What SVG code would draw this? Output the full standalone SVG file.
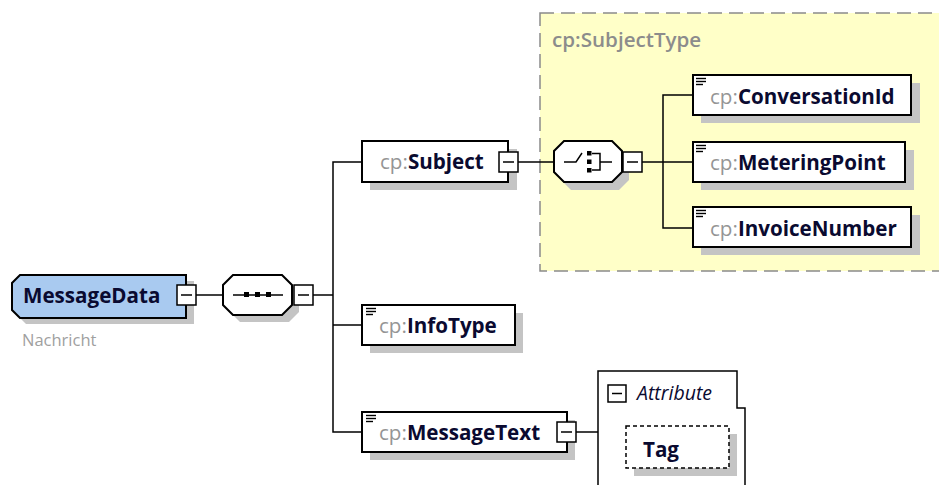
<svg xmlns="http://www.w3.org/2000/svg" width="939" height="485" viewBox="0 0 939 485">
<style>
.bx{fill:#fff;stroke:#000;stroke-width:2}
.sh{fill:#c4c4c4;stroke:none}
.ln{fill:none;stroke:#000;stroke-width:1.5}
.mb{fill:#fff;stroke:#000;stroke-width:1.5}
.t{font-family:"Open Sans","Noto Sans",sans-serif;font-size:20.6px}
.ns{fill:#959595;font-weight:400}
.nm{fill:#0a0a30;font-weight:700}
.ic{stroke:#000;stroke-width:1.4}
</style>
<defs>
<g id="minus"><rect class="mb" x="0" y="0" width="19" height="20"/><line class="ln" x1="4" y1="10" x2="15" y2="10"/></g>
<g id="doc"><line class="ic" x1="0" y1="0.5" x2="10" y2="0.5"/><line class="ic" x1="0" y1="3.5" x2="10" y2="3.5"/><line class="ic" x1="0" y1="6.5" x2="7" y2="6.5"/></g>
</defs>
<rect width="939" height="485" fill="#fff"/>

<g id="subjecttype">
<rect x="540" y="13" width="410" height="258" fill="#ffffc8" stroke="#8a8a8a" stroke-width="1.5" stroke-dasharray="14,7"/>
<text class="t" x="552" y="47" fill="#8c8c8c" font-weight="600" font-size="20">cp:SubjectType</text>
</g>

<g id="connectors">
<line class="ln" x1="196" y1="295" x2="223" y2="295"/>
<line class="ln" x1="313" y1="295" x2="333" y2="295"/>
<polyline class="ln" points="362,162 333,162 333,432 362,432"/>
<line class="ln" x1="333" y1="325" x2="362" y2="325"/>
<line class="ln" x1="518" y1="162" x2="554" y2="162"/>
<line class="ln" x1="642" y1="162" x2="693" y2="162"/>
<polyline class="ln" points="693,95 663,95 663,228 693,228"/>
<line class="ln" x1="575" y1="432" x2="598" y2="432"/>
</g>

<g id="messagedata">
<polygon class="sh" points="26,281 194,281 194,324 26,324 18,316 18,289"/>
<polygon points="20,275 186,275 186,318 20,318 12,310 12,283" fill="#a9caf0" stroke="#000" stroke-width="2"/>
<text class="t nm" x="23" y="303" font-size="21.5">MessageData</text>
<use href="#minus" x="177" y="285"/>
<text x="22" y="346" font-family="'Open Sans','Noto Sans',sans-serif" font-size="16.5" fill="#a0a0a0">Nachricht</text>
</g>

<g id="sequence">
<polygon class="sh" points="240,282 289,282 299,292 299,312 289,322 240,322 230,312 230,292"/>
<polygon class="bx" points="233,275 282,275 292,285 292,305 282,315 233,315 223,305 223,285"/>
<line class="ln" x1="233" y1="295" x2="283" y2="295"/>
<rect x="244" y="292" width="5" height="5"/>
<rect x="255" y="292" width="5" height="5"/>
<rect x="266" y="292" width="5" height="5"/>
<use href="#minus" x="294" y="285"/>
</g>

<g id="subject">
<rect class="sh" x="370" y="149" width="147" height="41"/>
<rect class="bx" x="362" y="141" width="146" height="41"/>
<text class="t" x="380" y="169"><tspan class="ns">cp:</tspan><tspan class="nm">Subject</tspan></text>
<use href="#minus" x="499" y="152"/>
</g>

<g id="choice">
<polygon class="sh" points="571,149 619,149 629,159 629,180 619,190 571,190 561,180 561,159"/>
<polygon class="bx" points="564,141 612,141 622,151 622,172 612,182 564,182 554,172 554,151"/>
<polyline class="ln" points="564,162 576,162 582,153"/>
<rect x="587" y="151" width="4.5" height="4.5"/>
<rect x="587" y="159.5" width="4.5" height="4.5"/>
<rect x="587" y="168" width="4.5" height="4.5"/>
<polyline class="ln" points="592,153.5 600,153.5 600,170 592,170"/>
<line class="ln" x1="600" y1="162" x2="612" y2="162"/>
<use href="#minus" x="623" y="152"/>
</g>

<g id="conversationid">
<rect class="sh" x="701" y="83" width="219" height="40"/>
<rect class="bx" x="693" y="75" width="218" height="40"/>
<use href="#doc" x="696" y="78"/>
<text class="t" x="710" y="104"><tspan class="ns">cp:</tspan><tspan class="nm">ConversationId</tspan></text>
</g>

<g id="meteringpoint">
<rect class="sh" x="701" y="150" width="213" height="40"/>
<rect class="bx" x="693" y="142" width="212" height="40"/>
<use href="#doc" x="696" y="145"/>
<text class="t" x="710" y="170"><tspan class="ns">cp:</tspan><tspan class="nm">MeteringPoint</tspan></text>
</g>

<g id="invoicenumber">
<rect class="sh" x="701" y="215" width="219" height="40"/>
<rect class="bx" x="693" y="207" width="218" height="40"/>
<use href="#doc" x="696" y="210"/>
<text class="t" x="710" y="236"><tspan class="ns">cp:</tspan><tspan class="nm">InvoiceNumber</tspan></text>
</g>

<g id="infotype">
<rect class="sh" x="370" y="313" width="153" height="40"/>
<rect class="bx" x="362" y="305" width="153" height="40"/>
<use href="#doc" x="366" y="308"/>
<text class="t" x="379" y="333"><tspan class="ns">cp:</tspan><tspan class="nm">InfoType</tspan></text>
</g>

<g id="messagetext">
<rect class="sh" x="370" y="420" width="205" height="40"/>
<rect class="bx" x="362" y="412" width="205" height="40"/>
<use href="#doc" x="366" y="415"/>
<text class="t" x="379" y="440"><tspan class="ns">cp:</tspan><tspan class="nm">MessageText</tspan></text>
<use href="#minus" x="557" y="422"/>
</g>

<g id="attributes">
<path d="M598,486 V371 H737 V408 H745 V486" fill="#fff" stroke="#000" stroke-width="1.5"/>
<rect class="mb" x="608" y="385" width="18" height="17"/>
<line class="ln" x1="612" y1="393.5" x2="622" y2="393.5"/>
<text x="637" y="400" font-family="'Open Sans','Noto Sans',sans-serif" font-size="19.5" font-style="italic" fill="#0a0a30">Attribute</text>
</g>

<g id="tag">
<rect class="sh" x="634" y="434" width="103" height="42"/>
<rect x="626" y="426" width="103" height="42" fill="#fff" stroke="#000" stroke-width="1.5" stroke-dasharray="4,3"/>
<text class="t nm" x="643" y="457">Tag</text>
</g>
</svg>
